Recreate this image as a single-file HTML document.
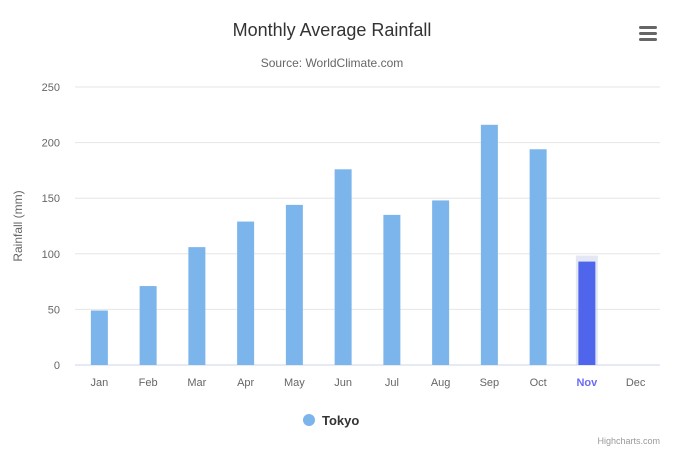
<!DOCTYPE html>
<html><head><meta charset="utf-8"><style>
body{margin:0;background:#fff;font-family:"Liberation Sans",sans-serif}
svg{display:block}
</style></head><body>
<svg width="679" height="453" xmlns="http://www.w3.org/2000/svg">
<rect width="679" height="453" fill="#fff"/>
<text x="332" y="36" text-anchor="middle" font-size="18" fill="#333">Monthly Average Rainfall</text>
<text x="332" y="67" text-anchor="middle" font-size="12" fill="#666">Source: WorldClimate.com</text>
<g>
<rect x="639" y="26" width="18" height="3" rx="1.5" fill="#666"/>
<rect x="639" y="32" width="18" height="3" rx="1.5" fill="#666"/>
<rect x="639" y="38" width="18" height="3" rx="1.5" fill="#666"/>
</g>
<g id="grid"></g>
<g id="bars"></g>
<g id="xlabels"></g>
<text transform="translate(22,226) rotate(-90)" text-anchor="middle" font-size="12" fill="#666">Rainfall (mm)</text>
<g>
<circle cx="309" cy="420" r="6" fill="#7cb5ec"/>
<text x="322" y="425" font-size="13" font-weight="bold" fill="#333">Tokyo</text>
</g>
<text x="660" y="444" text-anchor="end" font-size="9" fill="#999">Highcharts.com</text>
</svg>
<script>
const categories=["Jan","Feb","Mar","Apr","May","Jun","Jul","Aug","Sep","Oct","Nov","Dec"];
const rainfall=[49,71,106,129,144,176,135,148,216,194,93,null];
const yTicks=[0,50,100,150,200,250];
const hoverIndex=10;
const NS="http://www.w3.org/2000/svg";
const L=75,R=660,T=87,B=365,yMax=250;
const y=v=>B-(v/yMax)*(B-T);
const bw=(R-L)/categories.length;
const xc=i=>L+bw*(i+0.5);
function mk(t,a){const e=document.createElementNS(NS,t);for(const k in a)e.setAttribute(k,a[k]);return e;}
const g=document.getElementById('grid');
yTicks.forEach(t=>{
 const ln=mk('line',{x1:L,x2:R,y1:y(t),y2:y(t),stroke:t===0?'#ccd6eb':'#e6e6e6','stroke-width':1});
 
 
 g.appendChild(ln);
 const tx=mk('text',{x:L-15,y:y(t)+4,'text-anchor':'end','font-size':11,fill:'#666'});
 tx.textContent=t;
 
 
 g.appendChild(tx);
});
const bg=document.getElementById('bars');
const hb=mk('rect',{x:xc(hoverIndex)-11,y:y(rainfall[hoverIndex]||0)-6,width:22,height:B-y(rainfall[hoverIndex]||0)+6,fill:'rgba(204,214,235,0.55)'});


bg.appendChild(hb);
rainfall.forEach((v,i)=>{
 if(v==null)return;
 const r=mk('rect',{x:xc(i)-8.5,y:y(v),width:17,height:B-y(v),fill:i===hoverIndex?'#4f66ec':'#7cb5ec'});
 
 
 bg.appendChild(r);
});
const xl=document.getElementById('xlabels');
categories.forEach((c,i)=>{
 const t=mk('text',{x:xc(i),y:386,'text-anchor':'middle','font-size':11,fill:i===hoverIndex?'#6b6bf5':'#666','font-weight':i===hoverIndex?'bold':'normal'});
 t.textContent=c;
 
 
 xl.appendChild(t);
});
</script>
</body></html>
